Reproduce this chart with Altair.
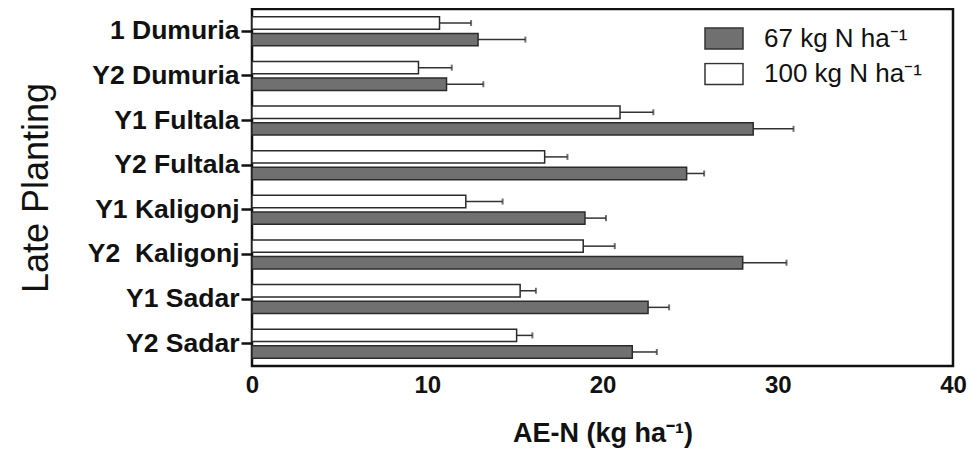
import altair as alt
import pandas as pd

sites = ["1 Dumuria", "Y2 Dumuria", "Y1 Fultala", "Y2 Fultala",
         "Y1 Kaligonj", "Y2\u00a0 Kaligonj", "Y1 Sadar", "Y2 Sadar"]
series = ["67 kg N ha\u207b\u00b9", "100 kg N ha\u207b\u00b9"]
ae_67 = [12.9, 11.1, 28.6, 24.8, 19.0, 28.0, 22.6, 21.7]
se_67 = [2.7, 2.1, 2.3, 1.0, 1.2, 2.5, 1.2, 1.4]
ae_100 = [10.7, 9.5, 21.0, 16.7, 12.2, 18.9, 15.3, 15.1]
se_100 = [1.8, 1.9, 1.9, 1.3, 2.1, 1.8, 0.9, 0.9]
x_ticks = [0, 10, 20, 30, 40]

rows = []
for i, s in enumerate(sites):
    rows.append({"site": s, "rate": series[0], "ae": ae_67[i], "hi": ae_67[i] + se_67[i]})
    rows.append({"site": s, "rate": series[1], "ae": ae_100[i], "hi": ae_100[i] + se_100[i]})
df = pd.DataFrame(rows)

FONT = "Liberation Sans"

y = alt.Y("site:N", sort=sites,
          scale=alt.Scale(paddingInner=0.35, paddingOuter=0.175),
          axis=alt.Axis(title="Late Planting", titleFontSize=36, titleFontWeight=500,
                        titleColor="#111", titlePadding=32,
                        labelFontSize=26.5, labelFontWeight="bold", labelColor="#111",
                        labelPadding=2, tickSize=11, tickWidth=2.5, tickColor="#111",
                        domain=False, grid=False))
yoff = alt.YOffset("rate:N", sort=[series[1], series[0]],
                   scale=alt.Scale(paddingInner=0.25, paddingOuter=0))
x = alt.X("ae:Q", scale=alt.Scale(domain=[0, 40], nice=False),
          axis=alt.Axis(title="AE-N (kg ha\u207b\u00b9)", values=x_ticks, titleFontSize=27,
                        titleFontWeight="bold", titleColor="#111", titlePadding=23,
                        labelFontSize=24, labelFontWeight="bold", labelColor="#111",
                        labelPadding=7, ticks=False, domain=False, grid=False,
                        labelFlush=False))

bars = alt.Chart(df).mark_bar(stroke="#2b2b2b", strokeWidth=1.5).encode(
    x=x, y=y, yOffset=yoff,
    color=alt.Color("rate:N", scale=alt.Scale(domain=series, range=["#707070", "#ffffff"]),
                    legend=alt.Legend(title=None, orient="none", legendX=452, legendY=18,
                                      symbolType="M-1,-0.55H1V0.55H-1Z", symbolSize=1444,
                                      symbolStrokeColor="#333", symbolStrokeWidth=1.5,
                                      symbolOpacity=1,
                                      labelFontSize=26, labelColor="#111", labelOffset=20,
                                      clipHeight=23, rowPadding=8.5, padding=0)))
rules = alt.Chart(df).mark_rule(color="#333", strokeWidth=1.5).encode(
    x="ae:Q", x2="hi:Q", y=y, yOffset=yoff)
caps = alt.Chart(df).mark_tick(color="#333", thickness=2, size=6, orient="vertical").encode(
    x="hi:Q", y=y, yOffset=yoff)

chart = alt.layer(rules, bars, caps).properties(
    width=701, height=357,
    autosize=alt.AutoSizeParams(type="none"),
    padding={"left": 244, "top": 1, "right": 17, "bottom": 84},
).configure(
    font=FONT,
    view=alt.ViewConfig(stroke="#111", strokeWidth=2.5),
)

chart.save("out.html", embed_options={"renderer": "svg", "actions": False})
